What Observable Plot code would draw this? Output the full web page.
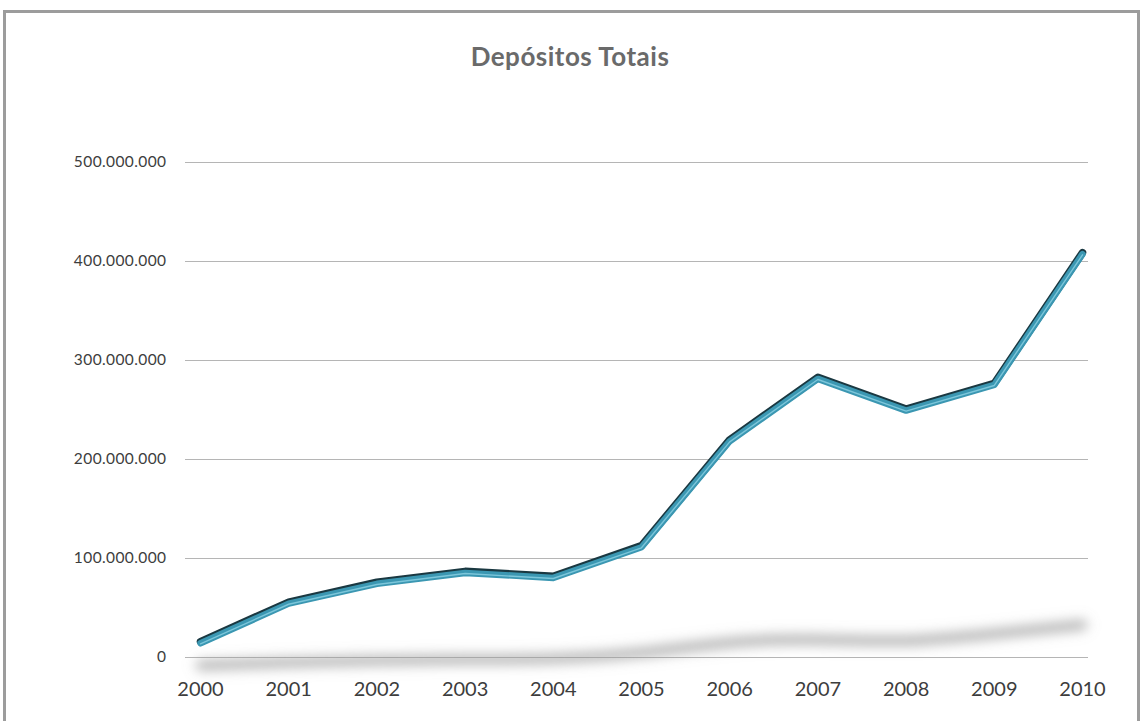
<!DOCTYPE html>
<html>
<head>
<meta charset="utf-8">
<script src="https://cdn.jsdelivr.net/npm/d3@7"></script>
<script src="https://cdn.jsdelivr.net/npm/@observablehq/plot@0.6"></script>
<style>
  html, body { margin: 0; padding: 0; background: #fff; width: 1144px; height: 721px; overflow: hidden; }
  #frame { position: absolute; left: 3px; top: 10px; width: 1137px; height: 740px; box-sizing: border-box; border: 3px solid #9c9c9c; background: #fff; }
  #title { position: absolute; left: 0; top: 39px; width: 1140px; text-align: center; font-family: Lato, "Open Sans", sans-serif; font-weight: 700; font-size: 26px; line-height: 34px; color: #6a6a6a; letter-spacing: 0.5px; }
  #chart { position: absolute; left: 0; top: 100px; }
</style>
</head>
<body>
<div id="frame"></div>
<div id="title">Depósitos Totais</div>
<div id="chart"></div>
<script>
const years = [2000, 2001, 2002, 2003, 2004, 2005, 2006, 2007, 2008, 2009, 2010];
const deposits = [15000000, 55000000, 75000000, 86000000, 81000000, 112000000, 219000000, 282000000, 250000000, 276000000, 408000000];
const shadowValues = [-8000000, -5000000, -3000000, -2000000, -1000000, 5000000, 15000000, 18000000, 17000000, 24000000, 33000000];
const yTicks = [0, 100000000, 200000000, 300000000, 400000000, 500000000];

const data = years.map((year, i) => ({year, value: deposits[i], shadow: shadowValues[i]}));
const ptFormat = d3.formatLocale({decimal: ",", thousands: ".", grouping: [3], currency: ["", ""]}).format(",d");

const chart = Plot.plot({
  width: 1144,
  height: 607,
  marginLeft: 200,
  marginRight: 62,
  marginTop: 62,
  marginBottom: 50,
  style: {background: "transparent", fontFamily: "Lato, 'Open Sans', sans-serif"},
  x: {domain: [2000, 2010], ticks: years, tickFormat: d => String(d), tickSize: 0, tickPadding: 24, label: null},
  y: {domain: [0, 500000000], ticks: yTicks, tickFormat: ptFormat, tickSize: 0, tickPadding: 34, label: null},
  marks: [
    Plot.ruleY(yTicks, {stroke: "#b5b5b5", strokeWidth: 1, insetLeft: -15, insetRight: -6}),
    Plot.line(data, {x: "year", y: "shadow", stroke: "#9a9a9a", strokeWidth: 10, strokeOpacity: 0.75, curve: "natural", ariaDescription: "shadow"}),
    Plot.line(data, {x: "year", y: "value", stroke: "#1a3841", strokeWidth: 7.5, dy: -1, strokeLinejoin: "round"}),
    Plot.line(data, {x: "year", y: "value", stroke: "#3b97b2", strokeWidth: 6.5, dy: 0.6, strokeLinejoin: "round"}),
    Plot.line(data, {x: "year", y: "value", stroke: "#7cc6da", strokeWidth: 1.4, dy: 1.2, strokeLinejoin: "round"})
  ]
});

const svg = d3.select(chart);
const defs = svg.insert("defs", ":first-child");
defs.append("filter").attr("id", "shadowBlur").attr("x", "-10%").attr("y", "-200%").attr("width", "120%").attr("height", "500%")
  .append("feGaussianBlur").attr("stdDeviation", 4);
svg.selectAll("g[aria-description='shadow'] path, g[aria-description='shadow']").attr("filter", "url(#shadowBlur)");
svg.selectAll("g[aria-label='y-axis tick label']").attr("font-size", 15.5).attr("fill", "#3d3d3d").attr("letter-spacing", 0.4);
svg.selectAll("g[aria-label='x-axis tick label']").attr("font-size", 20).attr("fill", "#3d3d3d");
document.getElementById("chart").appendChild(chart);
</script>
</body>
</html>
